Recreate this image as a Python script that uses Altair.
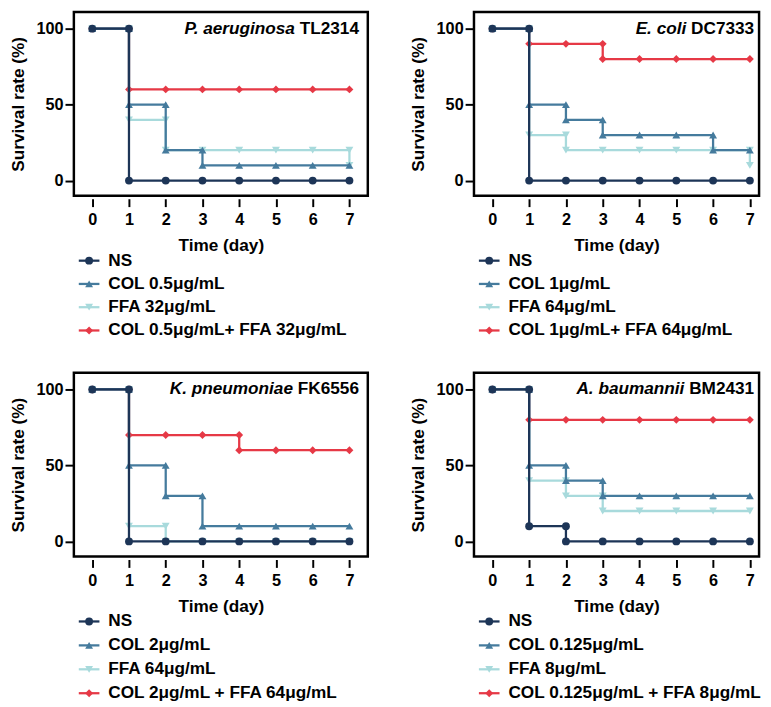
import altair as alt
import pandas as pd

# ---------------- data ----------------
days = [0, 1, 2, 3, 4, 5, 6, 7]
series_keys = ["NS", "COL", "FFA", "COMBO"]
series_colors = ["#1d3557", "#457b9d", "#a8dadc", "#e63946"]
series_shapes = ["circle", "triangle-up", "triangle-down", "diamond"]
series_sizes = [64, 64, 64, 30]

p1_species = "P. aeruginosa"
p1_strain = "TL2314"
p1_labels = ["NS", "COL 0.5μg/mL", "FFA 32μg/mL", "COL 0.5μg/mL+ FFA 32μg/mL"]
p1_ns = [100, 0, 0, 0, 0, 0, 0, 0]
p1_col = [100, 50, 20, 10, 10, 10, 10, 10]
p1_ffa = [100, 40, 20, 20, 20, 20, 20, 10]
p1_combo = [100, 60, 60, 60, 60, 60, 60, 60]

p2_species = "E. coli"
p2_strain = "DC7333"
p2_labels = ["NS", "COL 1μg/mL", "FFA 64μg/mL", "COL 1μg/mL+ FFA 64μg/mL"]
p2_ns = [100, 0, 0, 0, 0, 0, 0, 0]
p2_col = [100, 50, 40, 30, 30, 30, 20, 20]
p2_ffa = [100, 30, 20, 20, 20, 20, 20, 10]
p2_combo = [100, 90, 90, 80, 80, 80, 80, 80]

p3_species = "K. pneumoniae"
p3_strain = "FK6556"
p3_labels = ["NS", "COL 2μg/mL", "FFA 64μg/mL", "COL 2μg/mL + FFA 64μg/mL"]
p3_ns = [100, 0, 0, 0, 0, 0, 0, 0]
p3_col = [100, 50, 30, 10, 10, 10, 10, 10]
p3_ffa = [100, 10, 0, 0, 0, 0, 0, 0]
p3_combo = [100, 70, 70, 70, 60, 60, 60, 60]

p4_species = "A. baumannii"
p4_strain = "BM2431"
p4_labels = ["NS", "COL 0.125μg/mL", "FFA 8μg/mL", "COL 0.125μg/mL + FFA 8μg/mL"]
p4_ns = [100, 10, 0, 0, 0, 0, 0, 0]
p4_col = [100, 50, 40, 30, 30, 30, 30, 30]
p4_ffa = [100, 40, 30, 20, 20, 20, 20, 20]
p4_combo = [100, 80, 80, 80, 80, 80, 80, 80]

x_ticks = days
y_ticks = [0, 50, 100]

FONT = "Liberation Sans"
TITLE_FS = 17.5
W_BOLD = {"T": 0.611, "L": 0.611, "D": 0.722, "C": 0.722, "F": 0.611, "K": 0.722,
          "B": 0.722, "M": 0.833, " ": 0.278}


def text_width(s, fs):
    return sum(W_BOLD.get(ch, 0.556) for ch in s) * fs


color_scale = alt.Scale(domain=series_keys, range=series_colors)
shape_scale = alt.Scale(domain=series_keys, range=series_shapes)
size_scale = alt.Scale(domain=series_keys, range=series_sizes)


def step_rows(series_vals):
    rows = []
    for key, vals in zip(series_keys, series_vals):
        idx = 0
        prev = None
        for d, v in zip(days, vals):
            if prev is not None and v != prev:
                rows.append({"series": key, "day": d, "rate": prev, "idx": idx})
                idx += 1
            rows.append({"series": key, "day": d, "rate": v, "idx": idx})
            idx += 1
            prev = v
    return pd.DataFrame(rows)


def panel(species, strain, labels, series_vals, width, xmax, leg_h, title_inset):
    df = step_rows(series_vals)
    base = alt.Chart(df)
    xenc = alt.X("day:Q", scale=alt.Scale(domain=[-0.5, xmax], nice=False, zero=False),
                 axis=alt.Axis(values=x_ticks, domain=False, grid=False, tickColor="black",
                               tickWidth=2, tickSize=8, offset=3, labelFontSize=16.5,
                               labelFontWeight="bold", labelColor="black", labelPadding=5,
                               labelFont=FONT, title="Time (day)", titleFontSize=17.5,
                               titleFontWeight="bold", titleColor="black", titlePadding=9,
                               titleFont=FONT))
    yenc = alt.Y("rate:Q", scale=alt.Scale(domain=[-10, 111], nice=False, zero=False),
                 axis=alt.Axis(values=y_ticks, domain=False, grid=False, tickColor="black",
                               tickWidth=2, tickSize=9, labelFontSize=16.5,
                               labelFontWeight="bold", labelColor="black", labelPadding=2,
                               labelFont=FONT, title="Survival rate (%)", titleFontSize=17.5,
                               titleFontWeight="bold", titleColor="black", titlePadding=9,
                               titleFont=FONT))
    layers = []
    for key in ["COMBO", "FFA", "COL", "NS"]:
        sub = base.transform_filter(alt.datum.series == key)
        layers.append(sub.mark_line(strokeWidth=2.3).encode(
            x=xenc, y=yenc, order="idx:Q",
            color=alt.Color("series:N", scale=color_scale, legend=None)))
        layers.append(sub.mark_point(filled=True, opacity=1).encode(
            x=xenc, y=yenc,
            color=alt.Color("series:N", scale=color_scale, legend=None),
            shape=alt.Shape("series:N", scale=shape_scale, legend=None),
            size=alt.Size("series:N", scale=size_scale, legend=None)))
    tdf = pd.DataFrame({"species": [species], "strain": [strain]})
    tx = width - title_inset
    strain_txt = alt.Chart(tdf).mark_text(
        align="right", baseline="middle", fontSize=TITLE_FS, fontWeight="bold",
        font=FONT, color="black").encode(x=alt.value(tx), y=alt.value(17), text="strain:N")
    species_txt = alt.Chart(tdf).mark_text(
        align="right", baseline="middle", fontSize=TITLE_FS, fontWeight="bold",
        fontStyle="italic", font=FONT, color="black",
        dx=-(text_width(strain, TITLE_FS) + 0.278 * TITLE_FS)).encode(
        x=alt.value(tx), y=alt.value(17), text="species:N")
    layers += [strain_txt, species_txt]
    plot = alt.layer(*layers).properties(
        width=width, height=187,
        view=alt.ViewConfig(stroke="black", strokeWidth=2.5))

    ldf = pd.DataFrame({"series": series_keys, "label": labels})
    lbase = alt.Chart(ldf)
    ly = alt.Y("series:N", scale=alt.Scale(domain=series_keys, type="point", padding=0),
               axis=None)
    lc = alt.Color("series:N", scale=color_scale, legend=None)
    leg = alt.layer(
        lbase.mark_rule(strokeWidth=2.3).encode(x=alt.value(5), x2=alt.value(26), y=ly, color=lc),
        lbase.mark_point(filled=True, opacity=1).encode(
            x=alt.value(15.5), y=ly, color=lc,
            shape=alt.Shape("series:N", scale=shape_scale, legend=None),
            size=alt.Size("series:N", scale=size_scale, legend=None)),
        lbase.mark_text(align="left", baseline="middle", fontSize=17.5, fontWeight="bold",
                        font=FONT, color="black").encode(x=alt.value(35), y=ly, text="label:N"),
    ).properties(width=width, height=leg_h,
                 view=alt.ViewConfig(stroke="transparent"))
    return alt.vconcat(plot, leg, spacing=-5)


q1 = panel(p1_species, p1_strain, p1_labels, [p1_ns, p1_col, p1_ffa, p1_combo], 299, 7.5, 71, 9)
q2 = panel(p2_species, p2_strain, p2_labels, [p2_ns, p2_col, p2_ffa, p2_combo], 290, 7.25, 71, 5)
q3 = panel(p3_species, p3_strain, p3_labels, [p3_ns, p3_col, p3_ffa, p3_combo], 299, 7.5, 73, 9)
q4 = panel(p4_species, p4_strain, p4_labels, [p4_ns, p4_col, p4_ffa, p4_combo], 290, 7.25, 73, 5)

chart = alt.vconcat(
    alt.hconcat(q1, q2, spacing=39),
    alt.hconcat(q3, q4, spacing=39),
    spacing=32,
).properties(padding={"left": 0, "top": -4, "right": 0, "bottom": 0}
             ).configure(font=FONT).configure_view(stroke="black")

chart.save("out.html", embed_options={"renderer": "svg", "actions": False})
